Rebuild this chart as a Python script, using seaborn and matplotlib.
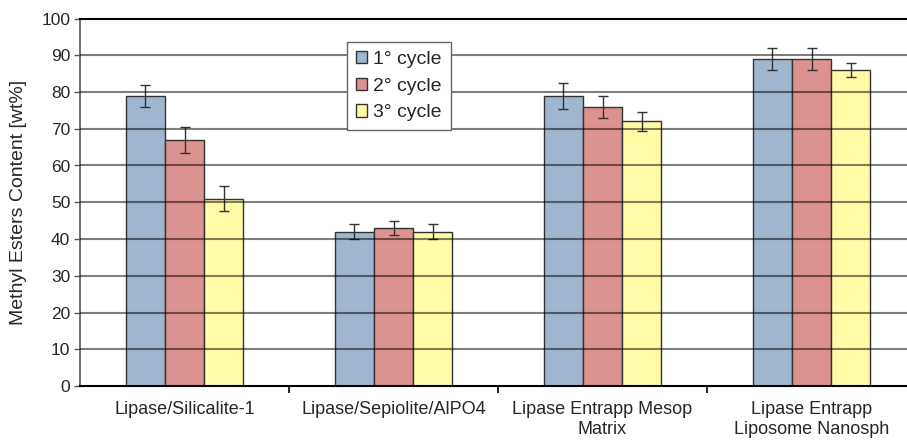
import matplotlib
matplotlib.use("Agg")
import matplotlib.pyplot as plt
import seaborn as sns
import pandas as pd
import numpy as np

# Biocatalyst supports and methyl ester yield per reuse cycle
categories = ["Lipase/Silicalite-1", "Lipase/Sepiolite/AlPO4",
              "Lipase Entrapp Mesop\nMatrix", "Lipase Entrapp\nLiposome Nanosph"]
cycles = ["1° cycle", "2° cycle", "3° cycle"]
cycle1 = [79, 42, 79, 89]
cycle2 = [67, 43, 76, 89]
cycle3 = [51, 42, 72, 86]
err1 = [3.0, 2.0, 3.5, 3.0]
err2 = [3.5, 2.0, 3.0, 3.0]
err3 = [3.5, 2.0, 2.5, 2.0]
colors = ["#A0B5CE", "#DC9290", "#FFFBA6"]
yticks = list(range(0, 101, 10))

values = [cycle1, cycle2, cycle3]
errors = [err1, err2, err3]
df = pd.DataFrame({
    "support": [c for _ in cycles for c in categories],
    "cycle": [cy for cy in cycles for _ in categories],
    "content": [v for vals in values for v in vals],
})

sns.set_style("white")
plt.rcParams["font.family"] = ["Liberation Sans", "DejaVu Sans"]

fig = plt.figure(figsize=(9.07, 4.4), dpi=100)
rect = [80 / 907, 54 / 440, 827 / 907, (386 - 18.5) / 440]
ax = fig.add_axes(rect)

sns.barplot(data=df, x="support", y="content", hue="cycle", order=categories,
            hue_order=cycles, palette=colors, saturation=1, width=0.56, gap=0,
            errorbar=None, edgecolor="#333333", linewidth=1.0, ax=ax)

ax.set_ylim(0, 100)
ax.set_xlim(-0.5, -0.5 + 827 / 209)
ax.set_yticks(yticks)
ax.grid(False)

# transparent overlay so the horizontal gridlines run across the bars
over = fig.add_axes(rect, sharey=ax, zorder=5)
over.patch.set_visible(False)
over.set_xlim(0, 1)
for s in over.spines.values():
    s.set_visible(False)
over.tick_params(left=False, bottom=False, labelleft=False, labelbottom=False)
over.grid(False)
for yv in yticks[1:-1]:
    over.axhline(yv, color="black", alpha=0.5, linewidth=1.5)

# error bars at the centre of each bar
for i, cy in enumerate(cycles):
    bars = ax.containers[i]
    xs = [b.get_x() + b.get_width() / 2 for b in bars]
    ax.errorbar(xs, values[i], yerr=errors[i], fmt="none", ecolor="#333333",
                elinewidth=1.0, capsize=3.5, capthick=1.0)

ax.set_xlabel("")
ax.set_ylabel("Methyl Esters Content [wt%]", fontsize=14, labelpad=10)
ax.tick_params(axis="y", labelsize=12.5, left=True, length=4, width=1, color="#555555", pad=3)
ax.tick_params(axis="x", labelsize=13, bottom=False, pad=7)
ax.set_xticks(range(len(categories)))
ax.set_xticklabels(categories, linespacing=1.25)
ax.set_xticks([0.5, 1.5, 2.5], minor=True)
ax.tick_params(axis="x", which="minor", bottom=True, length=5, width=1.2, color="black")

ax.spines["right"].set_visible(False)
ax.spines["top"].set_color("black")
ax.spines["top"].set_linewidth(1.5)
ax.spines["bottom"].set_color("black")
ax.spines["bottom"].set_linewidth(1.5)
ax.spines["left"].set_color("#555555")
ax.spines["left"].set_linewidth(1.2)

handles, labels = ax.get_legend_handles_labels()
ax.get_legend().remove()
leg = over.legend(handles, labels, loc="upper left",
                  bbox_to_anchor=((347 - 80) / 827, (386 - 42) / 367.5),
                  fontsize=14, frameon=True, fancybox=False, edgecolor="#666666",
                  framealpha=1, handlelength=0.6, handleheight=0.6, handletextpad=0.3,
                  borderpad=0.45, labelspacing=0.5, borderaxespad=0)
leg.get_frame().set_linewidth(1.0)

fig.savefig("out.png", dpi=100)
